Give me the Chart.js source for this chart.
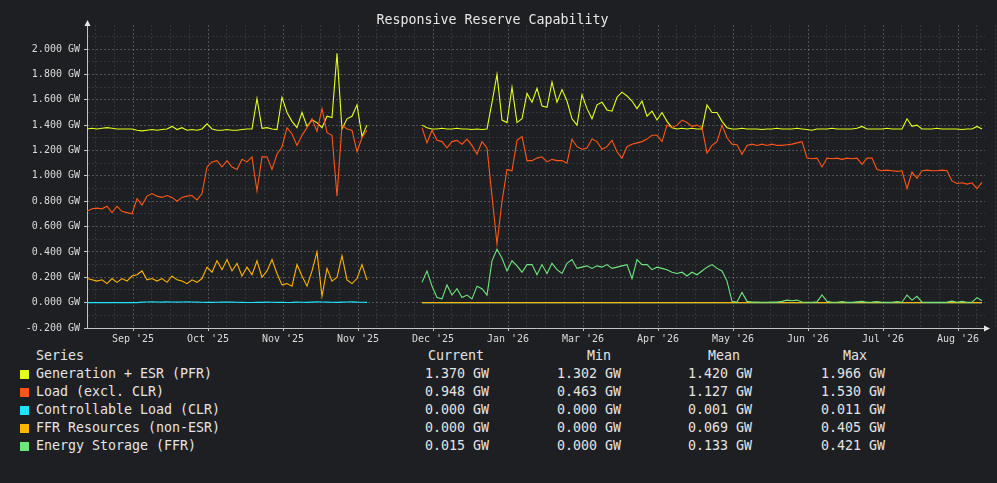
<!DOCTYPE html>
<html>
<head>
<meta charset="utf-8">
<title>Responsive Reserve Capability</title>
<script src="https://cdn.jsdelivr.net/npm/chart.js@4.4.1/dist/chart.umd.min.js"></script>
<style>
  html, body { margin: 0; padding: 0; background: #1e1f22; }
  body { width: 997px; height: 483px; position: relative; overflow: hidden;
         font-family: "DejaVu Sans Mono", monospace; color: #e4e4e4; }
  #wrap { position: absolute; left: 0; top: 0; width: 997px; height: 345px; }
  .lg { position: absolute; font-size: 13.3px; line-height: 16px; white-space: pre; }
  .sw { position: absolute; width: 9px; height: 9px; }
</style>
</head>
<body>
<div id="wrap"><canvas id="chart"></canvas></div>
<div id="legend"></div>
<script>
// one sample every 2 days, null = no data (gap in Nov/Dec)
const sampleStepDays = 2;

const seriesNames = ['Generation + ESR (PFR)', 'Load (excl. CLR)', 'Controllable Load (CLR)', 'FFR Resources (non-ESR)', 'Energy Storage (FFR)'];
const seriesColors = ['#e4ff1a', '#ff5516', '#1ee4ff', '#ffb400', '#6ee67e'];

const xTickLabels = ["Sep '25", "Oct '25", "Nov '25", "Nov '25", "Dec '25", "Jan '26", "Mar '26", "Apr '26", "May '26", "Jun '26", "Jul '26", "Aug '26"];
const yTickValues = [-0.2, 0, 0.2, 0.4, 0.6, 0.8, 1.0, 1.2, 1.4, 1.6, 1.8, 2.0];
const yTickLabels = ['-0.200 GW', '0.000 GW', '0.200 GW', '0.400 GW', '0.600 GW', '0.800 GW', '1.000 GW', '1.200 GW', '1.400 GW', '1.600 GW', '1.800 GW', '2.000 GW'];

const statCurrent = ['1.370 GW', '0.948 GW', '0.000 GW', '0.000 GW', '0.015 GW'];
const statMin = ['1.302 GW', '0.463 GW', '0.000 GW', '0.000 GW', '0.000 GW'];
const statMean = ['1.420 GW', '1.127 GW', '0.001 GW', '0.069 GW', '0.133 GW'];
const statMax = ['1.966 GW', '1.530 GW', '0.011 GW', '0.405 GW', '0.421 GW'];

const genPfr = [
  1.37, 1.375, 1.37, 1.375, 1.38, 1.375, 1.37, 1.37, 1.37,
  1.37, 1.36, 1.355, 1.36, 1.365, 1.36, 1.365, 1.37, 1.39,
  1.365, 1.38, 1.36, 1.365, 1.36, 1.37, 1.41,
  1.37, 1.36, 1.36, 1.365, 1.36, 1.36, 1.365, 1.37, 1.37,
  1.61, 1.375, 1.38, 1.37, 1.365, 1.62,
  1.50, 1.43, 1.38, 1.50, 1.39, 1.44, 1.42, 1.38, 1.47, 1.46,
  1.966, 1.37, 1.45, 1.47, 1.56, 1.31, 1.40,
  null, null, null, null, null, null, null, null, null, null,
  1.40, 1.38, 1.37, 1.37, 1.375, 1.37, 1.37, 1.375, 1.37, 1.37, 1.365, 1.37, 1.365, 1.37,
  1.58, 1.80, 1.44, 1.42, 1.70, 1.42, 1.45, 1.65, 1.58, 1.69,
  1.55, 1.54, 1.74, 1.58, 1.68, 1.59, 1.45, 1.40, 1.64, 1.53,
  1.45, 1.56, 1.58, 1.52, 1.51, 1.62, 1.66, 1.63, 1.59, 1.53,
  1.59, 1.47, 1.51, 1.44, 1.50, 1.43, 1.38, 1.37, 1.375, 1.37,
  1.375, 1.37, 1.37,
  1.56, 1.50, 1.50, 1.43, 1.38,
  1.37, 1.37, 1.375, 1.37, 1.37, 1.37, 1.365, 1.37, 1.37, 1.375,
  1.37, 1.37, 1.37, 1.375, 1.37, 1.365, 1.36, 1.37, 1.37, 1.37,
  1.375, 1.37, 1.37, 1.37, 1.37, 1.375, 1.39, 1.37, 1.37, 1.37,
  1.37, 1.375, 1.37, 1.37, 1.37, 1.45, 1.39, 1.40, 1.37, 1.37,
  1.37, 1.375, 1.37, 1.37, 1.37, 1.37, 1.365, 1.37, 1.37, 1.39,
  1.37
];

const loadExclClr = [
  0.72, 0.74, 0.745, 0.74, 0.76, 0.71, 0.76, 0.72, 0.71,
  0.70, 0.82, 0.77, 0.84, 0.86, 0.84, 0.83, 0.845, 0.83,
  0.80, 0.83, 0.84, 0.845, 0.81, 0.86,
  1.07, 1.11, 1.12, 1.07, 1.12, 1.07, 1.05, 1.13, 1.11, 1.15,
  0.88, 1.15, 1.15, 1.05, 1.17, 1.23,
  1.38, 1.33, 1.24, 1.32, 1.38, 1.45, 1.35, 1.53, 1.34, 1.32,
  0.84, 1.40, 1.37, 1.36, 1.19, 1.30, 1.36,
  null, null, null, null, null, null, null, null, null, null,
  1.38, 1.26, 1.36, 1.28, 1.27, 1.22, 1.27, 1.28, 1.25, 1.29, 1.24, 1.17, 1.27, 1.22,
  0.84, 0.463, 0.80, 1.05, 1.04, 1.28, 1.31, 1.12, 1.12, 1.14,
  1.15, 1.11, 1.13, 1.12, 1.12, 1.10, 1.29, 1.23, 1.21, 1.22,
  1.29, 1.27, 1.21, 1.23, 1.28, 1.19, 1.14, 1.23, 1.25, 1.26,
  1.27, 1.29, 1.32, 1.32, 1.27, 1.40, 1.38, 1.40, 1.44, 1.42,
  1.39, 1.40, 1.38,
  1.18, 1.24, 1.27, 1.40, 1.30,
  1.25, 1.245, 1.17, 1.24, 1.25, 1.24, 1.25, 1.24, 1.25, 1.24,
  1.24, 1.245, 1.25, 1.26, 1.27, 1.14, 1.135, 1.14, 1.07, 1.14,
  1.135, 1.14, 1.13, 1.14, 1.135, 1.14, 1.09, 1.14, 1.14, 1.05,
  1.04, 1.045, 1.04, 1.035, 1.04, 0.90, 1.03, 0.98, 1.04, 1.045,
  1.04, 1.04, 1.045, 1.04, 0.96, 0.94, 0.945, 0.935, 0.945, 0.90,
  0.948
];

const clrLoad = [
  0, 0, 0, 0, 0, 0, 0, 0, 0,
  0, 0, 0.004, 0.005, 0.006, 0.005, 0.004, 0.006, 0.005,
  0.004, 0.005, 0.006, 0.005, 0.004, 0.003,
  0.002, 0.002, 0.003, 0.004, 0.005, 0.004, 0.003, 0.002, 0.001, 0.001,
  0.002, 0.002, 0.004, 0.003, 0.002, 0.002,
  0.001, 0.002, 0.004, 0.003, 0.002, 0.004, 0.006, 0.005, 0.004, 0.003,
  0.002, 0.004, 0.005, 0.006, 0.004, 0.003, 0.002,
  null, null, null, null, null, null, null, null, null, null,
  0, 0, 0, 0, 0, 0, 0, 0, 0, 0, 0, 0, 0, 0,
  0, 0, 0, 0, 0, 0, 0, 0, 0, 0,
  0, 0, 0, 0, 0, 0, 0, 0, 0, 0,
  0, 0, 0, 0, 0, 0, 0, 0, 0, 0,
  0, 0, 0, 0, 0, 0, 0, 0, 0, 0,
  0, 0, 0,
  0, 0, 0, 0, 0,
  0, 0, 0, 0, 0, 0, 0, 0, 0, 0,
  0, 0, 0, 0, 0, 0, 0, 0, 0, 0,
  0, 0, 0, 0, 0, 0, 0, 0, 0, 0,
  0, 0, 0, 0, 0, 0, 0, 0, 0, 0,
  0, 0, 0, 0, 0, 0, 0, 0, 0, 0,
  0
];

const ffrNonEsr = [
  0.19, 0.18, 0.17, 0.18, 0.15, 0.19, 0.16, 0.19, 0.17,
  0.21, 0.22, 0.25, 0.18, 0.19, 0.17, 0.19, 0.16, 0.21,
  0.18, 0.17, 0.15, 0.18, 0.16, 0.19,
  0.28, 0.24, 0.33, 0.26, 0.34, 0.25, 0.31, 0.21, 0.28, 0.22,
  0.33, 0.20, 0.25, 0.34, 0.23, 0.14,
  0.15, 0.13, 0.30, 0.21, 0.13, 0.25, 0.40, 0.05, 0.27, 0.17,
  0.20, 0.37, 0.18, 0.15, 0.19, 0.30, 0.18,
  null, null, null, null, null, null, null, null, null, null,
  0, 0, 0, 0, 0, 0, 0, 0, 0, 0, 0, 0, 0, 0,
  0, 0, 0, 0, 0, 0, 0, 0, 0, 0,
  0, 0, 0, 0, 0, 0, 0, 0, 0, 0,
  0, 0, 0, 0, 0, 0, 0, 0, 0, 0,
  0, 0, 0, 0, 0, 0, 0, 0, 0, 0,
  0, 0, 0,
  0, 0, 0, 0, 0,
  0, 0, 0, 0, 0, 0, 0, 0, 0, 0,
  0, 0, 0, 0, 0, 0, 0, 0, 0, 0,
  0, 0, 0, 0, 0, 0, 0, 0, 0, 0,
  0, 0, 0, 0, 0, 0, 0, 0, 0, 0,
  0, 0, 0, 0, 0, 0, 0, 0, 0, 0,
  0
];

const storageFfr = [
  null, null, null, null, null, null, null, null, null,
  null, null, null, null, null, null, null, null, null,
  null, null, null, null, null, null,
  null, null, null, null, null, null, null, null, null, null,
  null, null, null, null, null, null,
  null, null, null, null, null, null, null, null, null, null,
  null, null, null, null, null, null, null,
  null, null, null, null, null, null, null, null, null, null,
  0.16, 0.25, 0.13, 0.04, 0.03, 0.14, 0.06, 0.11, 0.04, 0.06, 0.03, 0.13, 0.11, 0.06,
  0.33, 0.421, 0.35, 0.25, 0.33, 0.29, 0.24, 0.30, 0.30, 0.22,
  0.30, 0.23, 0.31, 0.26, 0.23, 0.31, 0.34, 0.27, 0.28, 0.29,
  0.27, 0.29, 0.28, 0.30, 0.27, 0.28, 0.29, 0.30, 0.19, 0.34,
  0.30, 0.30, 0.26, 0.28, 0.27, 0.26, 0.24, 0.23, 0.24, 0.21,
  0.24, 0.22, 0.25,
  0.28, 0.30, 0.27, 0.25, 0.17,
  0.01, 0.005, 0.08, 0.01, 0.005, 0.004, 0.003, 0.003, 0.005, 0.004,
  0.01, 0.02, 0.015, 0.02, 0.005, 0.003, 0.003, 0.006, 0.06, 0.01,
  0.003, 0.003, 0.008, 0.003, 0.002, 0.006, 0.01, 0.003, 0.005, 0.008,
  0.003, 0.002, 0.003, 0.008, 0.003, 0.06, 0.02, 0.05, 0.004, 0.003,
  0.002, 0.003, 0.002, 0.004, 0.012, 0.003, 0.01, 0.003, 0.004, 0.04,
  0.015
];

const seriesValues = [genPfr, loadExclClr, clrLoad, ffrNonEsr, storageFfr];
// later series drawn on top (lower order = on top in Chart.js)
const seriesOrder = [5, 4, 3, 2, 1];

const mono = '"DejaVu Sans Mono", monospace';
const majorGrid = 'rgba(200,200,200,0.30)';
const minorGrid = 'rgba(200,200,200,0.13)';
const axisColor = '#c4c4c4';

// x axis in days: first labelled tick at 18.4, one label per 30 days, 3 minor lines between
const xFirstLabel = 18.4;
const xLabelStep = 30;
const xTicks = [];
for (let k = -2; k <= 4 * xTickLabels.length - 1; k++) {
  xTicks.push({ value: xFirstLabel + k * xLabelStep / 4, label: k % 4 === 0 ? xTickLabels[k / 4] : '' });
}
const yTicks = [];
yTickValues.forEach((v, i) => {
  yTicks.push({ value: v, label: yTickLabels[i] });
  yTicks.push({ value: v + 0.1, label: '' });
});

const axisArrows = {
  id: 'axisArrows',
  afterDraw(chart) {
    const { ctx, chartArea: a } = chart;
    ctx.save();
    ctx.fillStyle = '#e6e6e6';
    ctx.beginPath();
    ctx.moveTo(a.left + 0.5, a.top - 5);
    ctx.lineTo(a.left - 2.5, a.top + 1);
    ctx.lineTo(a.left + 3.5, a.top + 1);
    ctx.closePath();
    ctx.fill();
    ctx.beginPath();
    ctx.moveTo(a.right + 5, a.bottom + 0.5);
    ctx.lineTo(a.right - 1, a.bottom - 2.5);
    ctx.lineTo(a.right - 1, a.bottom + 3.5);
    ctx.closePath();
    ctx.fill();
    ctx.restore();
  }
};

new Chart(document.getElementById('chart'), {
  type: 'line',
  data: {
    datasets: seriesNames.map((name, s) => ({
      label: name,
      data: seriesValues[s].map((v, i) => ({ x: i * sampleStepDays, y: v })),
      borderColor: seriesColors[s],
      backgroundColor: seriesColors[s],
      borderWidth: 1.1,
      pointRadius: 0,
      tension: 0,
      spanGaps: false,
      order: seriesOrder[s]
    }))
  },
  options: {
    responsive: true,
    maintainAspectRatio: false,
    animation: false,
    layout: { padding: { left: 0, right: 12, top: 0, bottom: 0 } },
    plugins: {
      legend: { display: false },
      tooltip: { enabled: false },
      title: {
        display: true,
        text: 'Responsive Reserve Capability',
        color: '#e8e8e8',
        font: { family: mono, size: 13.3, weight: 'normal', lineHeight: 1.2 },
        padding: { top: 13, bottom: -4 }
      }
    },
    scales: {
      x: {
        type: 'linear',
        min: 0,
        max: 359.2,
        afterBuildTicks: axis => { axis.ticks = xTicks.map(t => ({ value: t.value })); },
        afterFit: axis => { axis.height = 17; axis.paddingLeft = 0; axis.paddingRight = 0; },
        ticks: {
          autoSkip: false,
          maxRotation: 0,
          color: '#dadada',
          font: { family: mono, size: 10 },
          padding: 2,
          callback: (v, i) => xTicks[i] ? xTicks[i].label : ''
        },
        grid: {
          color: c => (xTicks[c.index] && xTicks[c.index].label) ? majorGrid : minorGrid,
          tickColor: c => (xTicks[c.index] && xTicks[c.index].label) ? axisColor : 'transparent',
          tickLength: 3,
          lineWidth: 1
        },
        border: { display: true, color: axisColor, width: 1, dash: [2, 2] }
      },
      y: {
        min: -0.2,
        max: 2.19,
        afterBuildTicks: axis => { axis.ticks = yTicks.map(t => ({ value: t.value })); },
        afterFit: axis => { axis.width = 87; },
        ticks: {
          autoSkip: false,
          color: '#dadada',
          font: { family: mono, size: 10 },
          padding: 4,
          callback: (v, i) => yTicks[i] ? yTicks[i].label : ''
        },
        grid: {
          color: c => (yTicks[c.index] && yTicks[c.index].label) ? majorGrid : minorGrid,
          tickColor: c => (yTicks[c.index] && yTicks[c.index].label) ? axisColor : 'transparent',
          tickLength: 3,
          lineWidth: 1
        },
        border: { display: true, color: axisColor, width: 1, dash: [2, 2] }
      }
    }
  },
  plugins: [axisArrows]
});

// legend table below the plot
const legend = document.getElementById('legend');
function addText(text, left, top) {
  const d = document.createElement('div');
  d.className = 'lg';
  d.textContent = text;
  d.style.left = left + 'px';
  d.style.top = top + 'px';
  legend.appendChild(d);
}
const legendCols = [
  { head: 'Current', hx: 428, vx: 425, vals: statCurrent },
  { head: 'Min', hx: 587, vx: 557, vals: statMin },
  { head: 'Mean', hx: 708, vx: 688, vals: statMean },
  { head: 'Max', hx: 843, vx: 821, vals: statMax }
];
addText('Series', 36, 348);
legendCols.forEach(c => addText(c.head, c.hx, 348));
seriesNames.forEach((name, r) => {
  const top = 366 + r * 18;
  const sw = document.createElement('div');
  sw.className = 'sw';
  sw.style.left = '20px';
  sw.style.top = (top + 4) + 'px';
  sw.style.background = seriesColors[r];
  legend.appendChild(sw);
  addText(name, 36, top);
  legendCols.forEach(c => addText(c.vals[r], c.vx, top));
});
</script>
</body>
</html>
